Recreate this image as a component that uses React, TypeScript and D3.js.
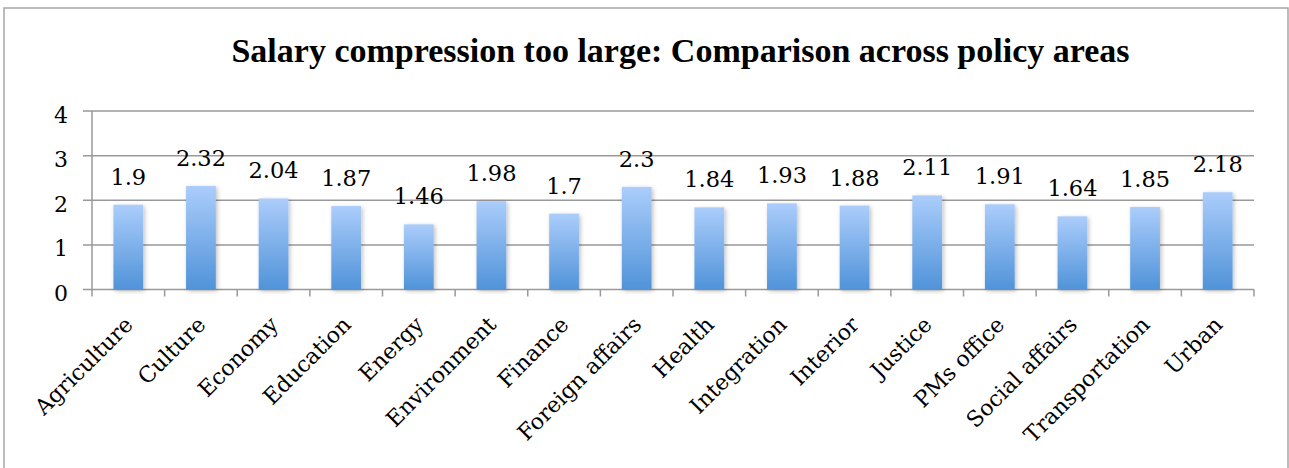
import React from "react";
import * as d3 from "d3";

const categories = [
  "Agriculture", "Culture", "Economy", "Education", "Energy", "Environment",
  "Finance", "Foreign affairs", "Health", "Integration", "Interior", "Justice",
  "PMs office", "Social affairs", "Transportation", "Urban",
];
const values = [1.9, 2.32, 2.04, 1.87, 1.46, 1.98, 1.7, 2.3, 1.84, 1.93, 1.88, 2.11, 1.91, 1.64, 1.85, 2.18];
const yTicks = [0, 1, 2, 3, 4];
const title = "Salary compression too large: Comparison across policy areas";

const W = 1289;
const H = 468;
const left = 92;
const right = 1254;
const top = 111;
const bottom = 289.5;
const font = "'DejaVu Serif', serif";
const titleFont = "'Liberation Serif', serif";

export default function App() {
  const x = d3.scaleBand<string>().domain(categories).range([left, right]).paddingInner(0).paddingOuter(0);
  const y = d3.scaleLinear().domain([0, 4]).range([bottom, top]);
  const bw = x.bandwidth() * 0.41;
  const gridColor = "#999999";
  const edges = categories.map((c) => x(c) as number).concat([right]);

  return (
    <svg width={W} height={H} style={{ position: "absolute", left: 0, top: 0, background: "#fff" }}>
      <defs>
        <linearGradient id="barGrad" x1="0" y1="0" x2="0" y2="1">
          <stop offset="0%" stopColor="#abcdfb" />
          <stop offset="100%" stopColor="#5093d9" />
        </linearGradient>
        <filter id="shadow" x="-30%" y="-10%" width="160%" height="130%">
          <feDropShadow dx="1.5" dy="1.5" stdDeviation="2" floodColor="#000" floodOpacity="0.25" />
        </filter>
      </defs>
      <rect x={4} y={8} width={1284} height={480} fill="#fff" stroke="#a6a6a6" strokeWidth={1.5} />
      <text x={(228 + 1133) / 2} y={62} textAnchor="middle" fontFamily={titleFont} fontWeight="bold" fontSize={34} fill="#000">
        {title}
      </text>
      {yTicks.map((t) => (
        <g key={t}>
          <line x1={left - 9} x2={right} y1={y(t)} y2={y(t)} stroke={gridColor} strokeWidth={1.5} />
          <text x={68} y={y(t) + 11.5} textAnchor="end" fontFamily={font} fontSize={22} fill="#000">
            {t}
          </text>
        </g>
      ))}
      <line x1={left} x2={left} y1={top} y2={bottom} stroke={gridColor} strokeWidth={1.5} />
      {edges.map((e, i) => (
        <line key={i} x1={e} x2={e} y1={bottom} y2={bottom + 7} stroke={gridColor} strokeWidth={1.5} />
      ))}
      {categories.map((c, i) => {
        const cx = (x(c) as number) + x.bandwidth() / 2;
        return (
          <g key={c}>
            <rect
              x={cx - bw / 2}
              y={y(values[i])}
              width={bw}
              height={bottom - y(values[i])}
              fill="url(#barGrad)"
              filter="url(#shadow)"
            />
            <text x={cx} y={y(values[i]) - 20} textAnchor="middle" fontFamily={font} fontSize={22.5} fill="#000">
              {values[i]}
            </text>
            <text
              transform={`translate(${cx + 6},${326}) rotate(-45)`}
              textAnchor="end"
              fontFamily={font}
              fontSize={22}
              fill="#000"
            >
              {c}
            </text>
          </g>
        );
      })}
    </svg>
  );
}
